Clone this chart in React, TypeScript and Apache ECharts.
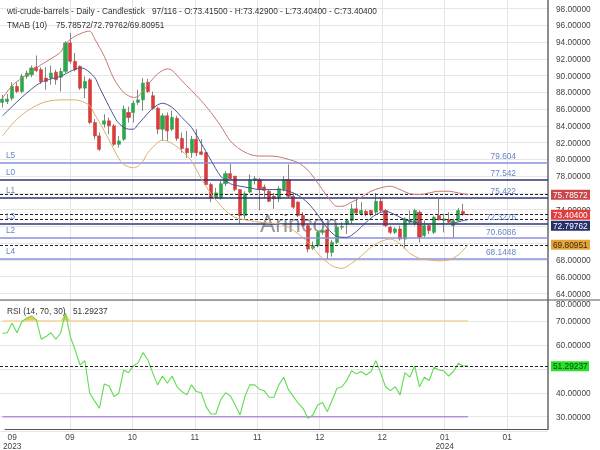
import { useEffect, useRef } from 'react';
import * as echarts from 'echarts';

const SLOTS = 113;
const categories = Array.from({ length: SLOTS }, (_, i) => String(i));
const tickIndex = [1, 13, 26, 39, 52, 65, 78, 91, 104];
const tickText = ['09\n2023', '09', '10', '11', '11', '12', '12', '01\n2024', '01'];
const gridIndex = [13, 26, 39, 52, 65, 78, 91, 104];
const coveredPriceTicks = [76, 72, 70];
const coveredRsiTicks = [50];

const opens = [86.8, 86.9, 87.3, 88.7, 88.1, 89.9, 90.1, 91.0, 90.7, 89.7, 89.7, 90.4, 89.8, 90.5, 93.9, 91.7, 91.1, 88.5, 89.5, 84.4,
  82.8, 84.2, 84.6, 84.0, 81.8, 82.4, 85.6, 85.6, 86.8, 87.1, 89.2, 87.6, 86.1, 83.6, 85.2, 83.6, 84.9, 82.5, 81.3, 80.8,
  82.4, 80.9, 80.8, 77.0, 75.4, 75.4, 77.1, 78.3, 78.0, 76.4, 73.3, 76.1, 77.5, 77.6, 76.7, 76.2, 75.6, 75.3, 76.4, 77.6,
  75.6, 74.9, 73.3, 72.1, 69.4, 69.7, 71.3, 71.6, 68.9, 70.1, 71.9, 72.3, 72.7, 74.1, 73.5, 73.8, 73.9, 73.7, 75.0, 73.9,
  71.9, 71.3, 71.7, 70.5, 72.5, 72.3, 73.7, 70.9, 72.1, 71.3, 73.3, 72.7, 72.8, 72.1, 72.7, 73.8, 73.415];
const closes = [87.2, 87.2, 88.7, 88.1, 89.9, 90.3, 90.9, 90.6, 89.3, 89.3, 90.3, 89.5, 90.5, 93.9, 91.7, 90.7, 88.5, 89.3, 84.4, 82.8,
  81.2, 84.6, 84.0, 81.8, 82.2, 86.0, 85.0, 86.7, 87.1, 89.1, 88.1, 86.1, 83.6, 85.2, 83.4, 85.0, 82.5, 81.3, 80.8, 82.4,
  80.8, 80.6, 77.0, 75.4, 76.0, 77.1, 78.3, 77.7, 76.4, 73.3, 75.9, 77.5, 77.7, 76.4, 76.3, 75.0, 75.3, 76.5, 77.6, 75.6,
  74.3, 73.3, 72.1, 69.3, 69.7, 71.3, 71.5, 68.9, 70.1, 71.9, 72.0, 72.7, 74.1, 73.6, 73.9, 73.4, 73.4, 75.0, 73.9, 72.1,
  71.3, 71.7, 70.5, 72.9, 72.8, 73.9, 70.7, 72.1, 71.5, 73.1, 72.8, 72.9, 72.5, 72.7, 73.9, 73.4, 73.404];
const lows = [86.2, 86.6, 87.0, 87.9, 87.9, 89.6, 89.8, 90.4, 89.0, 88.3, 88.9, 88.9, 88.1, 90.3, 91.4, 90.5, 88.3, 87.3, 84.2, 82.4,
  81.0, 83.8, 83.0, 81.6, 81.4, 82.2, 84.4, 84.4, 86.5, 85.8, 87.9, 85.9, 83.0, 82.2, 82.2, 83.4, 82.2, 80.8, 80.2, 80.2,
  80.4, 80.5, 76.9, 74.9, 75.2, 75.2, 76.8, 77.6, 76.2, 72.3, 72.9, 76.0, 77.0, 73.9, 75.4, 74.9, 74.1, 74.9, 76.2, 75.4,
  74.1, 73.1, 71.9, 68.9, 69.2, 69.5, 71.0, 68.1, 68.4, 69.9, 71.6, 71.1, 72.3, 73.4, 73.3, 73.2, 73.2, 73.5, 73.7, 71.9,
  71.1, 71.1, 70.3, 69.3, 72.3, 72.1, 70.1, 70.7, 71.1, 71.1, 72.7, 71.3, 72.3, 70.7, 72.6, 73.3, 73.404];
const highs = [87.7, 87.8, 89.2, 89.2, 90.2, 90.6, 91.2, 92.4, 91.0, 91.0, 91.2, 90.7, 90.9, 94.1, 95.1, 92.7, 91.2, 89.9, 89.7, 84.8,
  83.2, 85.4, 85.0, 84.2, 82.8, 86.4, 86.3, 87.0, 88.3, 89.7, 89.6, 88.1, 86.3, 85.5, 85.6, 85.8, 85.2, 83.2, 83.4, 82.8,
  83.6, 82.4, 80.9, 77.2, 76.6, 77.4, 78.6, 79.5, 78.0, 76.4, 76.2, 78.2, 78.0, 77.8, 77.0, 76.4, 76.0, 76.8, 78.0, 79.4,
  76.0, 75.0, 73.7, 72.3, 70.2, 71.5, 71.9, 71.8, 70.4, 72.2, 72.5, 72.9, 74.7, 75.3, 74.9, 74.0, 74.0, 76.0, 75.5, 74.1,
  72.1, 71.9, 72.1, 73.1, 73.9, 74.1, 73.9, 72.7, 72.3, 73.3, 75.3, 73.5, 73.7, 72.9, 74.2, 74.7, 73.429];

const rsiValues = [64.9, 65.1, 69.1, 65.1, 69.7, 71.2, 72.1, 70.5, 62.4, 63.5, 65.1, 62.4, 64.9, 73.3, 63.5, 57.9, 51.6, 53.4, 39.8, 36.6,
  33.5, 43.7, 42.8, 38.4, 39.8, 49.5, 48.4, 51.2, 52.6, 56.8, 53.7, 48.2, 43.3, 47.0, 44.0, 47.0, 42.5, 40.5, 39.1, 43.3,
  40.5, 40.0, 34.2, 31.1, 31.1, 37.0, 40.0, 38.7, 34.9, 30.7, 38.4, 43.3, 43.3, 41.5, 40.8, 38.1, 38.1, 43.3, 46.5, 41.2,
  38.4, 35.6, 33.5, 29.3, 30.7, 34.9, 35.9, 32.1, 37.0, 41.9, 42.5, 45.1, 49.2, 47.9, 48.9, 47.4, 48.9, 53.4, 48.2, 42.5,
  40.9, 42.5, 39.1, 48.4, 46.5, 51.2, 42.5, 46.5, 45.1, 50.7, 49.5, 49.2, 47.0, 48.9, 52.3, 51.2, 51.29237];

const tmaUpper = [[0, 87.3], [2, 88.8], [4, 89.7], [6, 90.5], [8, 91.3], [10, 92.0], [12, 92.8], [13, 93.8], [15, 94.7], [17, 95.2],
  [18, 95.3], [19, 94.4], [21, 92.3], [23, 89.6], [25, 88.0], [27, 87.4], [28, 87.5], [30, 88.9], [32, 90.2], [34, 90.8],
  [35, 90.6], [37, 89.4], [39, 88.2], [41, 87.0], [43, 85.6], [45, 84.0], [47, 82.2], [49, 81.2], [51, 80.6], [53, 80.4],
  [55, 80.4], [57, 80.3], [59, 80.0], [61, 79.6], [63, 78.7], [65, 77.2], [67, 75.6], [69, 74.4], [70, 74.4], [72, 74.9],
  [74, 75.5], [76, 76.2], [78, 76.6], [80, 76.8], [82, 76.4], [84, 75.9], [86, 75.8], [88, 76.0], [90, 76.2], [92, 76.2],
  [94, 76.0], [96, 75.78572]];
const tmaMiddle = [[0, 85.2], [2, 86.3], [4, 87.4], [6, 88.4], [8, 89.2], [10, 89.6], [12, 89.9], [14, 90.5], [16, 90.9], [17, 90.8],
  [19, 89.8], [20, 88.6], [22, 86.3], [23, 85.2], [24, 84.3], [26, 83.6], [27, 83.6], [28, 84.2], [30, 85.5], [31, 86.1],
  [33, 86.7], [35, 86.2], [37, 85.0], [39, 83.8], [41, 81.9], [43, 79.9], [45, 78.0], [47, 77.1], [49, 76.8], [51, 76.6],
  [53, 76.4], [55, 76.4], [57, 76.4], [59, 76.2], [61, 75.7], [63, 74.8], [65, 73.4], [67, 71.8], [69, 70.8], [71, 70.7],
  [73, 71.4], [75, 72.5], [77, 73.4], [79, 73.8], [81, 73.4], [83, 72.8], [85, 72.5], [87, 72.3], [89, 72.3], [91, 72.3],
  [93, 72.4], [95, 72.7], [96, 72.79762]];
const tmaLower = [[0, 82.8], [2, 84.2], [4, 85.3], [6, 86.1], [8, 86.7], [10, 87.0], [12, 87.1], [14, 87.1], [16, 87.0], [18, 86.4],
  [19, 85.4], [21, 83.4], [22, 82.3], [23, 81.2], [24, 80.1], [25, 79.4], [27, 79.0], [28, 79.2], [29, 79.8], [30, 80.8],
  [32, 82.0], [33, 82.3], [35, 81.9], [37, 81.0], [39, 79.8], [41, 77.7], [43, 75.9], [45, 74.5], [47, 73.4], [49, 72.9],
  [51, 72.7], [53, 72.5], [55, 72.4], [57, 72.3], [59, 71.9], [61, 71.1], [63, 70.1], [65, 68.8], [66, 68.2], [68, 67.3],
  [70, 67.0], [72, 67.6], [74, 68.5], [76, 69.5], [78, 70.2], [80, 70.5], [82, 69.9], [84, 68.8], [86, 68.2], [88, 68.0],
  [90, 67.9], [92, 68.0], [94, 68.6], [96, 69.80951]];

const levelNames = ['L5', 'L0', 'L1', 'L3', 'L2', 'L4'];
const levelValues = [79.604, 77.542, 75.422, 72.3276, 70.6086, 68.1448];
const levelTexts = ['79.604', '77.542', '75.422', '72.3276', '70.6086', '68.1448'];
const levelColors = ['#8b8fdc', '#2f3479', '#2f3479', '#2f3479', '#8b8fdc', '#8b8fdc'];

const lastUpper = 75.78572;
const lastMiddle = 72.79762;
const lastLower = 69.80951;
const lastClose = 73.404;
const lastRsi = 51.29237;
const RSI_OB = 70;
const RSI_OS = 30;

const valueBoxes = [
  { v: lastUpper, bg: '#c9474a', fg: '#ffffff' },
  { v: lastClose, bg: '#e23b3b', fg: '#ffffff' },
  { v: lastMiddle, bg: '#27306b', fg: '#ffffff' },
  { v: lastLower, bg: '#e5a43b', fg: '#3b2a0e' },
];

const FONT = '"Liberation Sans", Arial, sans-serif';
const FS = 8.3;

export default function App() {
  const ref = useRef<HTMLDivElement>(null);
  useEffect(() => {
    if (!ref.current) return;
    const chart = echarts.init(ref.current, undefined, { renderer: 'svg' });
    const last = closes.length - 1;
    const candleData = opens.map((o, i) => [o, closes[i], lows[i], highs[i]]);
    const bodyData = opens.map((o, i) => [o, closes[i], Math.min(o, closes[i]), Math.max(o, closes[i])]);
    const dashed = { type: [3, 2], color: '#222', width: 1 };

    chart.setOption({
      animation: false,
      textStyle: { fontFamily: FONT },
      grid: [
        { left: 0, top: 0, width: 548, height: 431 },
        { left: 0, top: 8.5, width: 548, height: 285 },
        { left: 0, top: 300, width: 548, height: 131 },
      ],
      xAxis: [
        {
          gridIndex: 0, type: 'category', data: categories, boundaryGap: true,
          axisLine: { show: true, lineStyle: { color: '#555', width: 1 } },
          axisTick: { show: false, alignWithLabel: true },
          axisLabel: {
            interval: (i: number) => tickIndex.includes(i),
            formatter: (_v: string, i: number) => { const k = tickIndex.indexOf(i); return k >= 0 ? tickText[k] : ''; },
            color: '#444', fontSize: FS, lineHeight: 9, margin: 3,
          },
          splitLine: { show: true, alignWithLabel: true, interval: (i: number) => gridIndex.includes(i), lineStyle: { color: '#e4e4e4', width: 1 } },
        },
        { gridIndex: 1, type: 'category', data: categories, boundaryGap: true, show: false },
        { gridIndex: 2, type: 'category', data: categories, boundaryGap: true, show: false },
      ],
      yAxis: [
        { gridIndex: 0, type: 'value', position: 'right', min: 0, max: 1, axisLine: { show: true, lineStyle: { color: '#666', width: 1.5 } }, axisLabel: { show: false }, axisTick: { show: false }, splitLine: { show: false } },
        {
          gridIndex: 1, type: 'value', position: 'right', min: 64, max: 98, interval: 2,
          axisLine: { show: false }, axisTick: { show: false },
          axisLabel: { formatter: (v: number) => (coveredPriceTicks.includes(v) ? '' : v.toFixed(5)), color: '#444', fontSize: FS, margin: 8 },
          splitLine: { lineStyle: { color: '#e6e6e6', width: 1 } },
        },
        {
          gridIndex: 2, type: 'value', position: 'right', min: 24, max: 78.8,
          axisLine: { show: false }, axisTick: { show: false },
          axisLabel: { formatter: (v: number) => (coveredRsiTicks.includes(v) ? '' : v.toFixed(5)), color: '#444', fontSize: FS, margin: 8, showMinLabel: false, showMaxLabel: false },
          splitLine: { lineStyle: { color: '#e6e6e6', width: 1 } },
        },
      ],
      series: [
        {
          type: 'candlestick', xAxisIndex: 1, yAxisIndex: 1, data: candleData, barWidth: 1, z: 3,
          itemStyle: { color: '#858585', color0: '#858585', borderColor: '#858585', borderColor0: '#858585', borderWidth: 1 },
          markLine: {
            silent: true, symbol: ['none', 'none'], label: { show: false },
            data: [
              ...levelValues.map((v, i) => ({ yAxis: v, lineStyle: { type: 'solid', color: levelColors[i], width: 1.5 } })),
              { yAxis: lastUpper, lineStyle: dashed },
              { yAxis: lastClose, lineStyle: dashed },
              { yAxis: lastMiddle, lineStyle: dashed },
              { yAxis: lastLower, lineStyle: dashed },
            ],
          },
        },
        {
          type: 'candlestick', xAxisIndex: 1, yAxisIndex: 1, data: bodyData, barWidth: 3.6, z: 4,
          itemStyle: { color: '#2ea64c', color0: '#d83c3c', borderColor: '#2ea64c', borderColor0: '#d83c3c', borderWidth: 0.6 },
        },
        { type: 'line', xAxisIndex: 1, yAxisIndex: 1, data: tmaUpper, smooth: 0.3, showSymbol: false, z: 5, lineStyle: { color: '#c57770', width: 1 } },
        { type: 'line', xAxisIndex: 1, yAxisIndex: 1, data: tmaMiddle, smooth: 0.3, showSymbol: false, z: 5, lineStyle: { color: '#48548f', width: 1 } },
        { type: 'line', xAxisIndex: 1, yAxisIndex: 1, data: tmaLower, smooth: 0.3, showSymbol: false, z: 5, lineStyle: { color: '#d9b06c', width: 1 } },
        { type: 'line', xAxisIndex: 2, yAxisIndex: 2, data: rsiValues.map(() => RSI_OB), stack: 'ob', showSymbol: false, lineStyle: { opacity: 0 }, z: 2 },
        { type: 'line', xAxisIndex: 2, yAxisIndex: 2, data: rsiValues.map((v) => Math.max(0, v - RSI_OB)), stack: 'ob', showSymbol: false, lineStyle: { opacity: 0 }, areaStyle: { color: '#f3c75a', opacity: 1 }, z: 2 },
        { type: 'line', xAxisIndex: 2, yAxisIndex: 2, data: [[0, RSI_OB], [last, RSI_OB]], showSymbol: false, lineStyle: { color: '#f4d597', width: 1.5 }, z: 3 },
        { type: 'line', xAxisIndex: 2, yAxisIndex: 2, data: [[0, RSI_OS], [last, RSI_OS]], showSymbol: false, lineStyle: { color: '#b58fd8', width: 1.5 }, z: 3 },
        {
          type: 'line', xAxisIndex: 2, yAxisIndex: 2, data: rsiValues, showSymbol: false, z: 4,
          lineStyle: { color: '#5fdc4f', width: 1.1 },
          markLine: { silent: true, symbol: ['none', 'none'], label: { show: false }, data: [{ yAxis: lastRsi, lineStyle: dashed }] },
        },
      ],
    });

    const py = (v: number) => chart.convertToPixel({ yAxisIndex: 1 } as any, v) as number;
    const ry = (v: number) => chart.convertToPixel({ yAxisIndex: 2 } as any, v) as number;
    const txt = (text: string, x: number, y: number, fill: string, extra: any = {}) => ({
      type: 'text', x, y, z: 60,
      style: { text, fill, fontSize: FS, fontFamily: FONT, align: 'left', textAlign: 'left', verticalAlign: 'middle', textVerticalAlign: 'middle', ...extra },
    });

    const elements: any[] = [];
    elements.push(txt('wti-crude-barrels - Daily - Candlestick', 7, 10.5, '#333'));
    elements.push(txt('97/116 - O:73.41500 - H:73.42900 - L:73.40400 - C:73.40400', 152, 10.5, '#333'));
    elements.push(txt('TMAB (10)', 7, 25, '#333'));
    elements.push(txt(`${lastUpper.toFixed(5)}/${lastMiddle.toFixed(5)}/${lastLower.toFixed(5)}`, 56, 25, '#333'));
    elements.push(txt('RSI (14, 70, 30)', 7, 311, '#333'));
    elements.push(txt(lastRsi.toFixed(5), 73, 311, '#333'));
    elements.push({ type: 'text', x: 260, y: 224, z: 1, style: { text: 'Arincon', fill: 'rgba(70,70,70,0.55)', fontSize: 23, fontFamily: FONT, align: 'left', textAlign: 'left', verticalAlign: 'middle', textVerticalAlign: 'middle' } });
    elements.push({ type: 'line', z: 60, shape: { x1: 0, y1: 300, x2: 600, y2: 300 }, style: { stroke: '#555', lineWidth: 1 } });

    levelValues.forEach((v, i) => {
      const y = py(v);
      elements.push(txt(levelNames[i], 6, y - 8, '#6784c6'));
      elements.push(txt(levelTexts[i], 516, y - 6.5, '#6784c6', { align: 'right', textAlign: 'right' }));
    });

    let prev = -100;
    valueBoxes.forEach((b) => {
      let y = py(b.v);
      if (y - prev < 11) y = prev + 11;
      prev = y;
      elements.push({ type: 'rect', z: 70, shape: { x: 551, y: y - 5, width: 39, height: 10 }, style: { fill: b.bg } });
      elements.push({ ...txt(b.v.toFixed(5), 553, y, b.fg), z: 71 });
    });
    const yr = ry(lastRsi);
    elements.push({ type: 'rect', z: 70, shape: { x: 551, y: yr - 4.5, width: 38, height: 10 }, style: { fill: '#27e027' } });
    elements.push({ ...txt(lastRsi.toFixed(5), 553, yr + 0.5, '#0d3d0d'), z: 71 });
    elements.push(txt('80.00000', 556, 304, '#444'));

    chart.setOption({ graphic: { elements } });
    return () => chart.dispose();
  }, []);
  return <div ref={ref} style={{ position: 'fixed', left: 0, top: 0, width: 600, height: 450 }} />;
}
